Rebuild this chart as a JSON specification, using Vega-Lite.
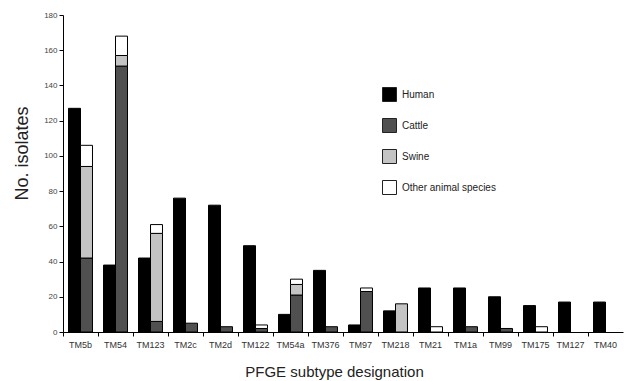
{
  "$schema": "https://vega.github.io/schema/vega-lite/v6.json",
  "width": 560,
  "height": 317,
  "autosize": "none",
  "padding": {"left": 63, "top": 15, "right": 8, "bottom": 49},
  "background": "white",
  "config": {
    "font": "Liberation Sans",
    "view": {"stroke": null}
  },
  "datasets": {
    "speciesOrder": [
      {"species": "Human", "rank": 0},
      {"species": "Cattle", "rank": 1},
      {"species": "Swine", "rank": 2},
      {"species": "Other animal species", "rank": 3}
    ]
  },
  "data": {
    "values": [
      {"subtype": "TM5b", "group": "Human", "species": "Human", "count": 127},
      {"subtype": "TM5b", "group": "Animal", "species": "Cattle", "count": 42},
      {"subtype": "TM5b", "group": "Animal", "species": "Swine", "count": 52},
      {"subtype": "TM5b", "group": "Animal", "species": "Other animal species", "count": 12},
      {"subtype": "TM54", "group": "Human", "species": "Human", "count": 38},
      {"subtype": "TM54", "group": "Animal", "species": "Cattle", "count": 151},
      {"subtype": "TM54", "group": "Animal", "species": "Swine", "count": 6},
      {"subtype": "TM54", "group": "Animal", "species": "Other animal species", "count": 11},
      {"subtype": "TM123", "group": "Human", "species": "Human", "count": 42},
      {"subtype": "TM123", "group": "Animal", "species": "Cattle", "count": 6},
      {"subtype": "TM123", "group": "Animal", "species": "Swine", "count": 50},
      {"subtype": "TM123", "group": "Animal", "species": "Other animal species", "count": 5},
      {"subtype": "TM2c", "group": "Human", "species": "Human", "count": 76},
      {"subtype": "TM2c", "group": "Animal", "species": "Cattle", "count": 5},
      {"subtype": "TM2d", "group": "Human", "species": "Human", "count": 72},
      {"subtype": "TM2d", "group": "Animal", "species": "Cattle", "count": 3},
      {"subtype": "TM122", "group": "Human", "species": "Human", "count": 49},
      {"subtype": "TM122", "group": "Animal", "species": "Cattle", "count": 2},
      {"subtype": "TM122", "group": "Animal", "species": "Other animal species", "count": 2},
      {"subtype": "TM54a", "group": "Human", "species": "Human", "count": 10},
      {"subtype": "TM54a", "group": "Animal", "species": "Cattle", "count": 21},
      {"subtype": "TM54a", "group": "Animal", "species": "Swine", "count": 6},
      {"subtype": "TM54a", "group": "Animal", "species": "Other animal species", "count": 3},
      {"subtype": "TM376", "group": "Human", "species": "Human", "count": 35},
      {"subtype": "TM376", "group": "Animal", "species": "Cattle", "count": 3},
      {"subtype": "TM97", "group": "Human", "species": "Human", "count": 4},
      {"subtype": "TM97", "group": "Animal", "species": "Cattle", "count": 23},
      {"subtype": "TM97", "group": "Animal", "species": "Other animal species", "count": 2},
      {"subtype": "TM218", "group": "Human", "species": "Human", "count": 12},
      {"subtype": "TM218", "group": "Animal", "species": "Swine", "count": 16},
      {"subtype": "TM21", "group": "Human", "species": "Human", "count": 25},
      {"subtype": "TM21", "group": "Animal", "species": "Other animal species", "count": 3},
      {"subtype": "TM1a", "group": "Human", "species": "Human", "count": 25},
      {"subtype": "TM1a", "group": "Animal", "species": "Cattle", "count": 3},
      {"subtype": "TM99", "group": "Human", "species": "Human", "count": 20},
      {"subtype": "TM99", "group": "Animal", "species": "Cattle", "count": 2},
      {"subtype": "TM175", "group": "Human", "species": "Human", "count": 15},
      {"subtype": "TM175", "group": "Animal", "species": "Other animal species", "count": 3},
      {"subtype": "TM127", "group": "Human", "species": "Human", "count": 17},
      {"subtype": "TM40", "group": "Human", "species": "Human", "count": 17}
    ]
  },
  "transform": [
    {"lookup": "species", "from": {"data": {"name": "speciesOrder"}, "key": "species", "fields": ["rank"]}}
  ],
  "mark": {"type": "bar", "stroke": "black", "strokeWidth": 1},
  "encoding": {
    "x": {
      "field": "subtype",
      "type": "nominal",
      "sort": null,
      "scale": {"paddingInner": 0, "paddingOuter": 0},
      "axis": {
        "title": "PFGE subtype designation",
        "titleFontSize": 15,
        "titleFontWeight": "normal",
        "titleColor": "#222",
        "titlePadding": 15,
        "titleX": 271,
        "labelAngle": 0,
        "labelFontSize": 9,
        "labelColor": "#333",
        "labelPadding": 4,
        "bandPosition": 0,
        "tickSize": 4,
        "tickColor": "black",
        "domainColor": "black",
        "labelFlush": false,
        "labelOverlap": false
      }
    },
    "xOffset": {
      "field": "group",
      "type": "nominal",
      "sort": ["Human", "Animal"],
      "scale": {"paddingInner": 0, "paddingOuter": 0.46}
    },
    "y": {
      "field": "count",
      "type": "quantitative",
      "stack": "zero",
      "scale": {"domain": [0, 180]},
      "axis": {
        "title": "No. isolates",
        "titleFontSize": 18,
        "titleFontWeight": "normal",
        "titleColor": "#222",
        "titleX": -32,
        "titleY": 138,
        "values": [0, 20, 40, 60, 80, 100, 120, 140, 160, 180],
        "labelFontSize": 8,
        "labelColor": "#444",
        "tickSize": 4,
        "tickColor": "black",
        "domainColor": "black",
        "grid": false
      }
    },
    "order": {"field": "rank", "type": "quantitative", "sort": "ascending"},
    "color": {
      "field": "species",
      "type": "nominal",
      "scale": {
        "domain": ["Human", "Cattle", "Swine", "Other animal species"],
        "range": ["#000000", "#505050", "#c4c4c4", "#ffffff"]
      },
      "legend": {
        "title": null,
        "orient": "none",
        "legendX": 319,
        "legendY": 72,
        "symbolType": "square",
        "symbolSize": 196,
        "symbolStrokeColor": "#222",
        "symbolStrokeWidth": 1,
        "symbolOpacity": 1,
        "labelFontSize": 10,
        "labelColor": "#222",
        "rowPadding": 12,
        "labelOffset": 5
      }
    }
  }
}
